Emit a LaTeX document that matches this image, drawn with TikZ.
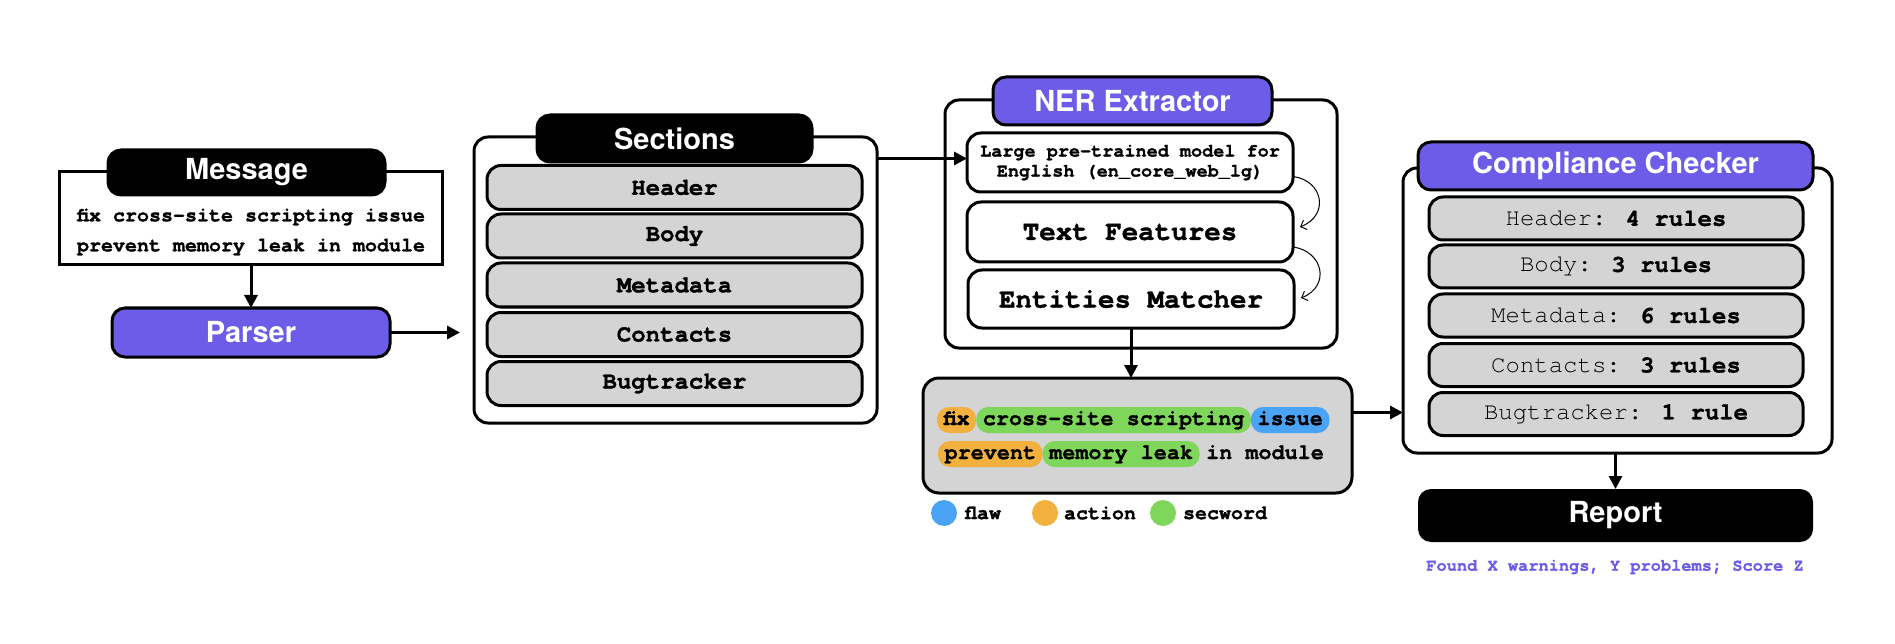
\documentclass[tikz,border=0pt]{standalone}
\usepackage{fontspec}
\setmainfont{TeX Gyre Heros}
\newfontfamily\mono[BoldFeatures={FakeBold=1.2}]{TeX Gyre Cursor}
\usetikzlibrary{arrows.meta,calc}
\definecolor{purp}{HTML}{6C5CE7}
\definecolor{grayfill}{HTML}{D4D4D4}
\definecolor{hlgreen}{HTML}{7ED65A}
\definecolor{hlorange}{HTML}{F2B03F}
\definecolor{hlblue}{HTML}{4BA3F5}
\begin{document}
\begin{tikzpicture}[x=1pt,y=-1pt,
  every node/.style={inner sep=0pt, outer sep=0pt},
  outerbox/.style={draw, line width=3pt, rounded corners=14pt, fill=white},
  item/.style={draw, line width=3pt, rounded corners=14pt, fill=grayfill, minimum height=44pt, font=\mono\bfseries\fontsize{24}{28}\selectfont},
  citem/.style={item, font=\mono\fontsize{24}{28}\selectfont},
  hdrbox/.style={draw, line width=3pt, rounded corners=13pt, fill=black, text=white, font=\bfseries\fontsize{29}{34}\selectfont},
  purphdr/.style={hdrbox, fill=purp},
  whitebox/.style={draw, line width=3pt, rounded corners=14pt, fill=white, font=\mono\bfseries\fontsize{27.5}{32}\selectfont},
  arr/.style={line width=3pt, -{Triangle[length=13pt,width=13pt]}},
  curv/.style={line width=1pt, -{Straight Barb[length=5pt,width=10pt]}},
  pill/.style={anchor=west, minimum height=26pt, rounded corners=12pt, inner xsep=6.54pt, text height=14pt, text depth=4pt, font=\mono\bfseries\fontsize{21.8}{26}\selectfont},
  legdot/.style={circle, minimum size=26pt},
  legtxt/.style={anchor=west, font=\mono\bfseries\fontsize{20}{24}\selectfont},
]
\useasboundingbox (0,0) rectangle (1895,644);

% ---------- Message ----------
\node[draw, line width=3pt, fill=white, minimum width=383pt, minimum height=93pt] (msg) at (250.5,218.5) {};
\node[hdrbox, minimum width=277pt, minimum height=45pt] (msghdr) at (246.5,172.5) {Message};
\node[align=center, font=\mono\bfseries\fontsize{20}{30}\selectfont] (msgtxt) at (251,232) {fix cross-site scripting issue\\prevent memory leak in module};

% ---------- Parser ----------
\node[purphdr, minimum width=278pt, minimum height=49pt] (parser) at (251,332.5) {Parser};

% ---------- Sections ----------
\node[outerbox, minimum width=403pt, minimum height=286pt] (sec) at (675.5,280) {};
\node[hdrbox, minimum width=275pt, minimum height=47pt] (sechdr) at (674.5,138.5) {Sections};
\node[item, minimum width=375pt] (s1) at (674.5,187.5) {Header};
\node[item, minimum width=375pt] (s2) at (674.5,236) {Body};
\node[item, minimum width=375pt] (s3) at (674.5,285) {Metadata};
\node[item, minimum width=375pt] (s4) at (674.5,334.5) {Contacts};
\node[item, minimum width=375pt] (s5) at (674.5,383.5) {Bugtracker};

% ---------- NER Extractor ----------
\node[outerbox, minimum width=392pt, minimum height=248pt] (ner) at (1141,224) {};
\node[purphdr, minimum width=279pt, minimum height=48pt] (nerhdr) at (1132.5,101) {NER Extractor};
\node[whitebox, minimum width=326pt, minimum height=59pt, align=center, font=\mono\bfseries\fontsize{18.5}{20}\selectfont] (large) at (1130,162.5) {Large pre-trained model for\\English (en\_core\_web\_lg)};
\node[whitebox, minimum width=326pt, minimum height=60pt] (tf) at (1130,232) {Text Features};
\node[whitebox, minimum width=326pt, minimum height=58pt] (ent) at (1131,299) {Entities Matcher};
\draw[curv] ([yshift=-14pt]large.east) .. controls +(30,4) and +(30,-12) .. ([xshift=7pt,yshift=5pt]tf.east);
\draw[curv] ([yshift=-15pt]tf.east) .. controls +(30,4) and +(30,-12) .. ([xshift=7pt,yshift=1pt]ent.east);

% ---------- Result box ----------
\node[draw, line width=3pt, rounded corners=16pt, fill=grayfill, minimum width=429pt, minimum height=115pt] (res) at (1137.5,435.5) {};
\node[pill, fill=hlorange] (p1) at (937,420) {fix};
\node[pill, fill=hlgreen] (p2) at (p1.east) {cross-site scripting};
\node[pill, fill=hlblue] (p3) at (p2.east) {issue};
\node[pill, fill=hlorange] (p4) at (938,454) {prevent};
\node[pill, fill=hlgreen] (p5) at (p4.east) {memory leak};
\node[pill] (p6) at (p5.east) {in module};

% legend
\node[legdot, fill=hlblue] (lb) at (944,513) {};
\node[legtxt] (lbt) at (965,513) {flaw};
\node[legdot, fill=hlorange] (lo) at (1045,513) {};
\node[legtxt] (lot) at (1064,513) {action};
\node[legdot, fill=hlgreen] (lg) at (1163,513) {};
\node[legtxt] (lgt) at (1183,513) {secword};

% ---------- Compliance Checker ----------
\node[outerbox, minimum width=429pt, minimum height=285pt] (comp) at (1617.5,310.5) {};
\node[purphdr, minimum width=395pt, minimum height=48pt] (comphdr) at (1615.5,166) {Compliance Checker};
\node[citem, minimum width=374pt, minimum height=43pt] (c1) at (1616,218.5) {Header: \textbf{4 rules}};
\node[citem, minimum width=374pt, minimum height=43pt] (c2) at (1616,266.5) {Body: \textbf{3 rules}};
\node[citem, minimum width=374pt, minimum height=43pt] (c3) at (1616,315.5) {Metadata: \textbf{6 rules}};
\node[citem, minimum width=374pt, minimum height=43pt] (c4) at (1616,365) {Contacts: \textbf{3 rules}};
\node[citem, minimum width=374pt, minimum height=43pt] (c5) at (1616,414) {Bugtracker: \textbf{1 rule}};

% ---------- Report ----------
\node[fill=black, rounded corners=13pt, text=white, minimum width=395pt, minimum height=53pt, font=\bfseries\fontsize{29}{34}\selectfont] (report) at (1615.5,515.5) {Report};
\node[text=purp, font=\mono\bfseries\fontsize{17}{20}\selectfont] (found) at (1615,567) {Found X warnings, Y problems; Score Z};

% ---------- Arrows ----------
\draw[arr] (msg.south -| parser.north) -- (parser.north);
\draw[arr, shorten >=14pt] (parser.east) -- (parser.east -| sec.west);
\coordinate (a1) at ([yshift=4pt]large.west);
\draw[arr] (a1 -| sec.east) -- (a1);
\draw[arr] (ent.south) -- (ent.south |- res.north);
\coordinate (a2) at ([yshift=23pt]res.east);
\draw[arr] (a2) -- (a2 -| comp.west);
\draw[arr] (comp.south -| report.north) -- (report.north);
\end{tikzpicture}
\end{document}
